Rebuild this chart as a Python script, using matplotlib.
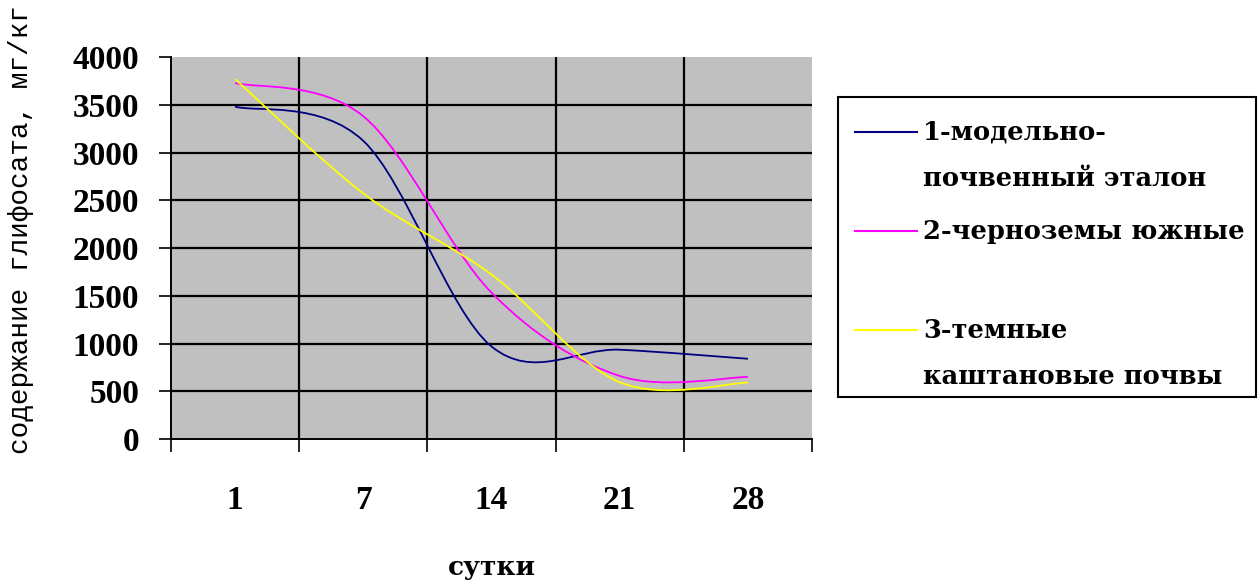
import matplotlib
matplotlib.use('Agg')
import matplotlib.pyplot as plt
from matplotlib.path import Path
from matplotlib.patches import PathPatch, Rectangle
from matplotlib.lines import Line2D
import numpy as np

# days (category labels)
days = ['1', '7', '14', '21', '28']

# glyphosate content, mg/kg
etalon = [3480, 3122, 969, 935, 840]
chernozem = [3728, 3380, 1533, 660, 650]
kashtan = [3770, 2572, 1722, 595, 590]

labels = ['1-модельно-\nпочвенный эталон', '2-черноземы южные', '3-темные\nкаштановые почвы']
colors = ['#000080', '#FF00FF', '#FFFF00']


def smooth_path(xs, ys):
    # excel-like smoothed line: cubic bezier through every point
    pts = list(zip(xs, ys))
    n = len(pts)
    verts = [pts[0]]
    codes = [Path.MOVETO]
    for i in range(n - 1):
        p0 = pts[i - 1] if i > 0 else pts[i]
        p1 = pts[i]
        p2 = pts[i + 1]
        p3 = pts[i + 2] if i + 2 < n else pts[i + 1]
        c1 = (p1[0] + (p2[0] - p0[0]) / 6, p1[1] + (p2[1] - p0[1]) / 6)
        c2 = (p2[0] - (p3[0] - p1[0]) / 6, p2[1] - (p3[1] - p1[1]) / 6)
        verts += [c1, c2, p2]
        codes += [Path.CURVE4] * 3
    return Path(verts, codes)


fig = plt.figure(figsize=(12.58, 5.80), dpi=100)
ax = fig.add_axes([0.1359, 0.2431, 0.5096, 0.6586])
ax.set_facecolor('#C0C0C0')

x = np.arange(len(days))
for vals, c in zip([etalon, chernozem, kashtan], colors):
    ax.add_patch(PathPatch(smooth_path(x, vals), fill=False, edgecolor=c, lw=1.3, zorder=3))

ax.set_xlim(-0.5, len(days) - 0.5)
ax.set_ylim(0, 4000)

# grid
for yv in range(500, 4000, 500):
    ax.axhline(yv, color='black', lw=1.6, zorder=1)
for xv in np.arange(0.5, len(days) - 1, 1):
    ax.axvline(xv, color='black', lw=1.6, zorder=1)

for s in ['top', 'right']:
    ax.spines[s].set_visible(False)
ax.spines['left'].set_linewidth(1.4)
ax.spines['bottom'].set_linewidth(1.4)

ax.set_yticks(range(0, 4001, 500))
ax.set_yticklabels([str(v) for v in range(0, 4001, 500)],
                   fontfamily='Liberation Serif', fontweight='bold', fontsize=24)
ax.tick_params(axis='y', length=9, width=1.2, pad=14)

ax.set_xticks(np.arange(-0.5, len(days), 1))
ax.set_xticklabels([])
ax.tick_params(axis='x', which='major', length=9, width=1.2)
ax.set_xticks(x, minor=True)
ax.set_xticklabels(days, minor=True, fontfamily='Liberation Serif', fontweight='bold', fontsize=24)
ax.tick_params(axis='x', which='minor', length=0, pad=33)

ax.set_xlabel('сутки', fontfamily='DejaVu Serif', fontweight='bold', fontsize=19, labelpad=28)
fig.text(0.017, 0.605, 'содержание глифосата, мг/кг', rotation=90, ha='center', va='center',
         fontfamily='Liberation Mono', fontsize=20)

# legend box
fig.patches.append(Rectangle((838 / 1258, 1 - 397 / 580), (1256 - 838) / 1258, (397 - 97) / 580,
                             transform=fig.transFigure, facecolor='white', edgecolor='black', lw=1.5))
rows = [132, 231, 330]
for lab, c, yr in zip(labels, colors, rows):
    yf = 1 - yr / 580
    fig.lines.append(Line2D([855 / 1258, 917 / 1258], [yf, yf], transform=fig.transFigure, color=c, lw=1.5))
    for k, part in enumerate(lab.split('\n')):
        fig.text(923 / 1258, 1 - (yr + k * 46) / 580, part, ha='left', va='center',
                 fontfamily='DejaVu Serif', fontweight='bold', fontsize=18.5)

fig.savefig('out.png', dpi=100)
